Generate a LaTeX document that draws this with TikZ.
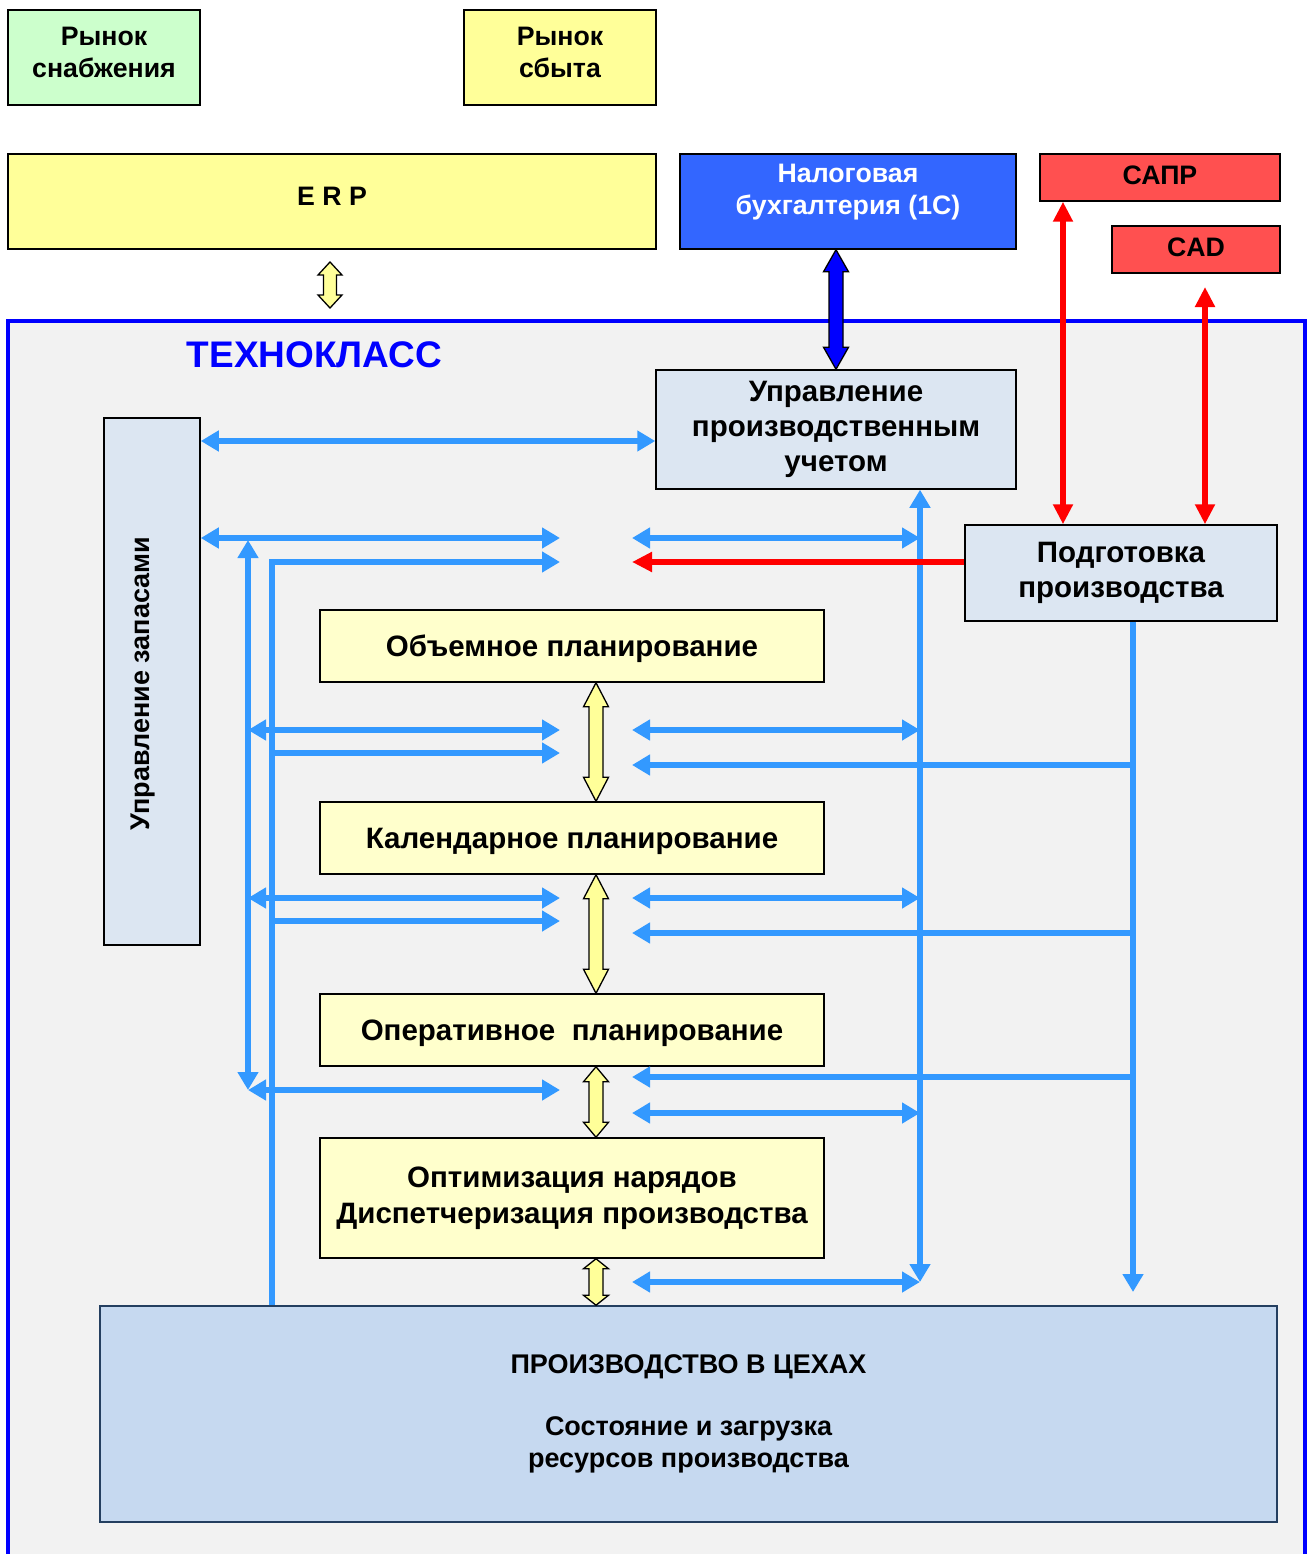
\documentclass[tikz,border=0pt]{standalone}
\usepackage{fontspec}
\setmainfont{Liberation Sans}
\usetikzlibrary{arrows.meta, calc}

\definecolor{supgreen}{HTML}{CCFFCC}
\definecolor{erpyellow}{HTML}{FFFF99}
\definecolor{planyellow}{HTML}{FFFFCC}
\definecolor{taxblue}{HTML}{3366FF}
\definecolor{cadred}{HTML}{FF5050}
\definecolor{modblue}{HTML}{DCE6F2}
\definecolor{prodblue}{HTML}{C6D9F0}
\definecolor{prodline}{HTML}{243F60}
\definecolor{framegray}{HTML}{F2F2F2}
\definecolor{flowblue}{HTML}{3399FF}
\definecolor{linkred}{HTML}{FF0000}
\definecolor{tkblue}{HTML}{0000FF}

% block arrow: style, top tip, bottom tip, shaft half width, head half width, head length
\newcommand{\blockarr}[6]{%
  \draw[#1] (#2) -- ($(#2)+(#5,#6)$) -- ($(#2)+(#4,#6)$)
    -- ($(#3)+(#4,-#6)$) -- ($(#3)+(#5,-#6)$) -- (#3)
    -- ($(#3)+(-#5,-#6)$) -- ($(#3)+(-#4,-#6)$)
    -- ($(#2)+(-#4,#6)$) -- ($(#2)+(-#5,#6)$) -- cycle;}

\tikzset{
  box/.style={draw, line width=1.5pt, align=center, inner sep=0pt},
  small/.style={align=center, font=\bfseries\fontsize{26.7}{32}\selectfont},
  mod/.style={box, fill=modblue, font=\bfseries\fontsize{29.5}{35}\selectfont},
  plan/.style={box, fill=planyellow, minimum width=504pt,
    font=\bfseries\fontsize{29.5}{36}\selectfont},
  flow/.style={draw=flowblue, line width=6.5pt, >={Triangle[length=18pt,width=20pt]}},
  link/.style={draw=linkred, line width=5.5pt, >={Triangle[length=20pt,width=19pt]}},
  yarrow/.style={draw=black, line width=1.3pt, fill=erpyellow, line join=miter},
  barrow/.style={draw=black, line width=1.3pt, fill=tkblue, line join=miter},
}

\begin{document}
\begin{tikzpicture}[x=1pt, y=-1pt]
  \useasboundingbox (0,0) rectangle (1307,1554);

  % the Technoclass frame
  \fill[framegray] (8,321) rectangle (1305,1554);
  \draw[tkblue, line width=4pt] (8,1560) -- (8,321) -- (1305,321) -- (1305,1560);
  \node[text=tkblue, font=\bfseries\fontsize{37}{42}\selectfont] (tk) at (314.5,355) {ТЕХНОКЛАСС};

  % outer systems
  \node[box, fill=supgreen, minimum width=192pt, minimum height=95pt] (sup) at (104,57.5) {};
  \node[small, yshift=5pt] (suptxt) at (sup) {Рынок\\снабжения};
  \node[box, fill=erpyellow, minimum width=192pt, minimum height=95pt] (sale) at (560,57.5) {};
  \node[small, yshift=5pt] (saletxt) at (sale) {Рынок\\сбыта};
  \node[box, fill=erpyellow, minimum width=648pt, minimum height=95pt] (erp) at (332,201.5) {};
  \node[small, yshift=5pt] (erptxt) at (erp) {E R P};
  \node[box, fill=taxblue, minimum width=336pt, minimum height=95pt] (tax) at (848,201.5) {};
  \node[small, text=white, yshift=9pt] (taxtxt) at (tax) {Налоговая\\бухгалтерия (1С)};
  \node[box, fill=cadred, minimum width=240pt, minimum height=47pt] (sapr) at (1160,177.5) {};
  \node[small, yshift=2pt] (saprtxt) at (sapr) {САПР};
  \node[box, fill=cadred, minimum width=168pt, minimum height=47pt] (cad) at (1196,249.5) {};
  \node[small, yshift=2pt] (cadtxt) at (cad) {CAD};

  % modules
  \node[mod, minimum width=360pt, minimum height=119pt] (uchet) at (836,429.5) {Управление\\производственным\\учетом};
  \node[mod, minimum width=96pt, minimum height=527pt] (zap) at (152,681.5) {};
  \node[rotate=90, font=\bfseries\fontsize{27}{30}\selectfont] (zaptxt) at ($(zap.center)+(-9,2)$) {Управление запасами};
  \node[mod, minimum width=312pt, minimum height=96pt] (prep) at (1121,573) {Подготовка\\производства};

  \node[plan, minimum height=72pt, text depth=0pt] (vol) at (572,646) {Объемное планирование};
  \node[plan, minimum height=72pt, text depth=0pt] (cal) at (572,838) {Календарное планирование};
  \node[plan, minimum height=72pt, text depth=0pt] (oper) at (572,1030) {Оперативное\ \ планирование};
  \node[plan, minimum height=120pt] (opt) at (572,1198) {Оптимизация нарядов\\Диспетчеризация производства};

  \node[box, fill=prodblue, draw=prodline, minimum width=1177pt, minimum height=216pt,
    font=\bfseries\fontsize{27}{32}\selectfont] (prod) at (688.5,1414)
    {ПРОИЗВОДСТВО В ЦЕХАХ\\[30pt]Состояние и загрузка\\ресурсов производства};

  % bus lines and tip positions
  \coordinate (lx) at (560,0);
  \coordinate (rx) at (632,0);
  \coordinate (busA) at (248,540);
  \coordinate (busB) at (272,562);
  \coordinate (busC) at (920,1282);
  \coordinate (busD) at (1133,1292);
  \coordinate (rw) at (0,441);

  \draw[flow,<->] (zap.east |- rw) -- (uchet.west |- rw);
  \draw[flow,<->] (busA) -- (busA |- 0,1090);
  \draw[flow,->] (busB |- prod.north) -- (busB) -- (busB -| lx);
  \draw[flow,<->] (busC |- uchet.south) -- (busC);
  \draw[flow,->] (busD |- prep.south) -- (busD);
  \coordinate (rw) at (0,538);
  \draw[flow,<->] (zap.east |- rw) -- (lx |- rw);
  \foreach \y in {730,898,1090} {
    \coordinate (rw) at (0,\y);
    \draw[flow,<->] (busA |- rw) -- (lx |- rw);
  }
  \foreach \y in {753,921} {
    \coordinate (rw) at (0,\y);
    \draw[flow,->] (busB |- rw) -- (lx |- rw);
  }
  \foreach \y in {538,730,898,1113,1282} {
    \coordinate (rw) at (0,\y);
    \draw[flow,<->] (rx |- rw) -- (busC |- rw);
  }
  \foreach \y in {765,933,1077} {
    \coordinate (rw) at (0,\y);
    \draw[flow,->] (busD |- rw) -- (rx |- rw);
  }

  % CAD links
  \coordinate (saprx) at (1063,0);
  \coordinate (cadtop) at (1205,287);
  \draw[link,<->] (saprx |- sapr.south) -- (saprx |- prep.north);
  \draw[link,<->] (cadtop) -- (cadtop |- prep.north);
  \draw[link,->] (prep.west |- busB) -- (rx |- busB);

  % block arrows
  \coordinate (erpA) at (330,262);
  \coordinate (erpB) at (330,308);
  \coordinate (yx) at (596,0);
  \blockarr{yarrow}{erpA}{erpB}{6.5}{12}{13}
  \blockarr{barrow}{uchet.north |- tax.south}{uchet.north}{7}{12.5}{22}
  \blockarr{yarrow}{vol.south -| yx}{cal.north -| yx}{7}{12.5}{24}
  \blockarr{yarrow}{cal.south -| yx}{oper.north -| yx}{7}{12.5}{24}
  \blockarr{yarrow}{oper.south -| yx}{opt.north -| yx}{7}{12.5}{15}
  \blockarr{yarrow}{opt.south -| yx}{prod.north -| yx}{7}{12.5}{10}
\end{tikzpicture}
\end{document}
